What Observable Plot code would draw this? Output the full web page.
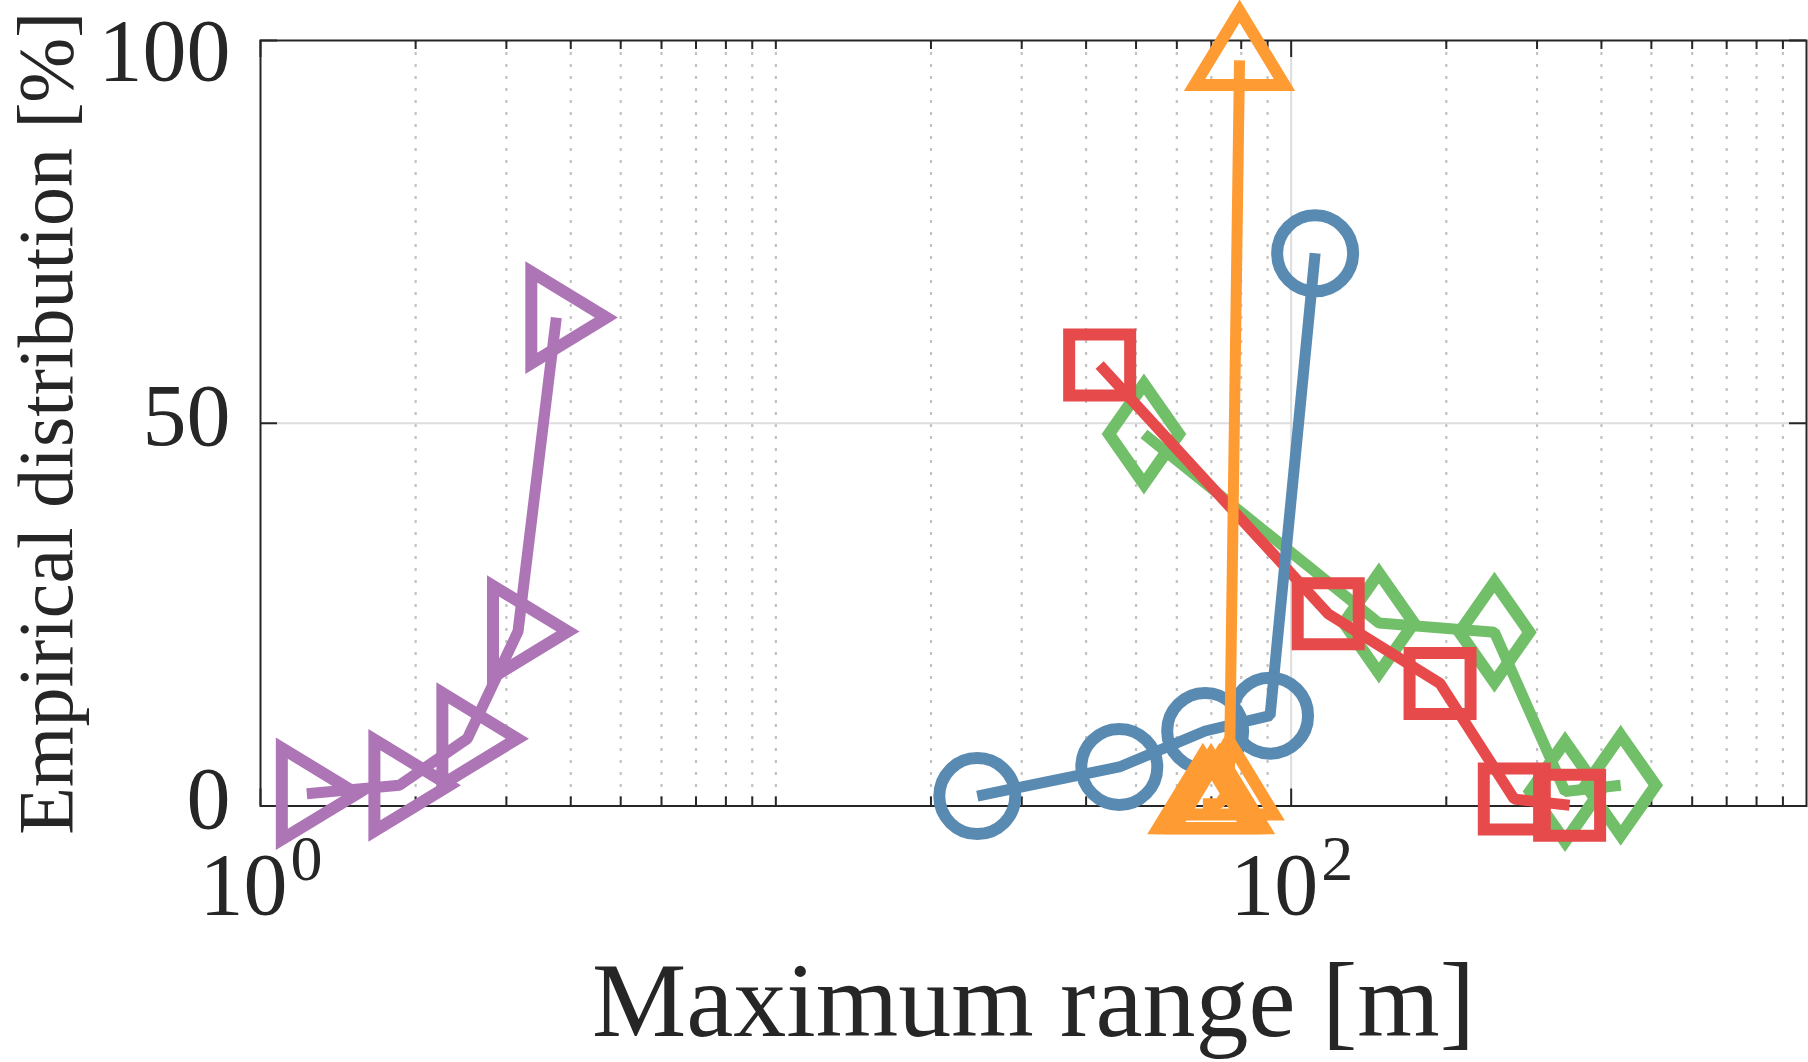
<!DOCTYPE html>
<html>
<head>
<meta charset="utf-8">
<script src="https://cdn.jsdelivr.net/npm/d3@7"></script>
<script src="https://cdn.jsdelivr.net/npm/@observablehq/plot@0.6"></script>
<style>
  html, body { margin: 0; padding: 0; background: #fff; }
  #chart svg { display: block; }
</style>
</head>
<body>
<div id="chart"></div>
<script>
// ---- Data ----
const purpleX = [1.23, 1.86, 2.52, 3.16, 3.75];
const purpleY = [1.6, 2.7, 8.8, 22.8, 63.8];

const greenX = [51.8, 148, 248, 340, 436];
const greenY = [48.6, 23.9, 22.7, 1.9, 2.7];

const redX = [42.5, 118, 194.5, 271, 347];
const redY = [57.6, 25.1, 16.0, 0.9, 0.1];

const blueX = [24.6, 46.4, 68.1, 91.0, 111.3];
const blueY = [1.3, 5.1, 9.8, 11.8, 72.2];

const orangeX = [67.4, 69.9, 72.6, 75.8, 79.4];
const orangeY = [0.3, 0.3, 0.3, 2.1, 97.4];

const yTicks = [0, 50, 100];
const yTickLabelsLow = [0, 50];
const yTickLabelsTop = [100];
const xTickValues = [1, 100];
const xTickBase = ["10", "10"];
const xTickExp = ["0", "2"];
const xMinorGrid = [2,3,4,5,6,7,8,9,10,20,30,40,50,60,70,80,90,200,300,400,500,600,700,800,900];
const xMajorGrid = [100];
const yMajorGrid = [50];

const xTitle = "Maximum range [m]";
const yTitle = "Empirical distribution [%]";

const colors = {
  purple: "#AD74B6",
  green: "#72BF6A",
  red: "#E64A4A",
  blue: "#598AB2",
  orange: "#FF9B33"
};

// ---- Build tables ----
const rows = (xs, ys) => xs.map((x, i) => ({x, y: ys[i]}));
const purple = rows(purpleX, purpleY);
const green = rows(greenX, greenY);
const red = rows(redX, redY);
const blue = rows(blueX, blueY);
const orange = rows(orangeX, orangeY);
const xTickLabels = xTickValues.map((v, i) => ({v, base: xTickBase[i], exp: xTickExp[i]}));

// ---- Custom marker symbols (size -> r) ----
const sym = (fn) => ({draw(ctx, size) { const r = Math.sqrt(size / Math.PI); fn(ctx, r); }});
const squareSym = sym((c, r) => { c.moveTo(-r, -r); c.lineTo(r, -r); c.lineTo(r, r); c.lineTo(-r, r); c.closePath(); });
const diamondSym = sym((c, r) => { const w = 0.7 * r; c.moveTo(0, -r); c.lineTo(w, 0); c.lineTo(0, r); c.lineTo(-w, 0); c.closePath(); });
const triangleSym = sym((c, r) => { const w = 0.913 * r; c.moveTo(0, -r); c.lineTo(w, 0.5 * r); c.lineTo(-w, 0.5 * r); c.closePath(); });

const W = 1808, H = 1062;
const mL = 260, mR = 2, mT = 40, mB = 256.5;
const frameW = W - mL - mR, frameH = H - mT - mB;
const axisColor = "#262626";

const series = (data, color, symbol, r, extra = {}) => [
  Plot.line(data, {x: "x", y: "y", stroke: color, strokeWidth: 11, strokeLinejoin: "miter", strokeLinecap: "butt"}),
  Plot.dot(data, {x: "x", y: "y", stroke: color, strokeWidth: 12, fill: "none", symbol, r, strokeLinejoin: "miter", ...extra})
];

const chart = Plot.plot({
  width: W,
  height: H,
  marginLeft: mL,
  marginRight: mR,
  marginTop: mT,
  marginBottom: mB,
  style: {fontFamily: "'Liberation Serif', 'DejaVu Serif', serif", background: "#fff", overflow: "visible", color: axisColor},
  x: {type: "log", domain: [1, 1000], axis: null},
  y: {domain: [0, 100], axis: null},
  marks: [
    // grid
    Plot.ruleX(xMinorGrid, {x: d => d, stroke: "#c2c2c2", strokeWidth: 2.2, strokeDasharray: "3,9"}),
    Plot.ruleX(xMajorGrid, {x: d => d, stroke: "#dddddd", strokeWidth: 2}),
    Plot.ruleY(yMajorGrid, {y: d => d, stroke: "#dddddd", strokeWidth: 2}),
    // ticks (inside), bottom & top
    Plot.tickX(xMinorGrid, {x: d => d, stroke: axisColor, strokeWidth: 2, insetTop: frameH - 9}),
    Plot.tickX(xMinorGrid, {x: d => d, stroke: axisColor, strokeWidth: 2, insetBottom: frameH - 9}),
    Plot.tickX(xTickValues, {x: d => d, stroke: axisColor, strokeWidth: 2, insetTop: frameH - 17}),
    Plot.tickX(xTickValues, {x: d => d, stroke: axisColor, strokeWidth: 2, insetBottom: frameH - 17}),
    Plot.tickY(yTicks, {y: d => d, stroke: axisColor, strokeWidth: 2, insetRight: frameW - 17}),
    Plot.tickY(yTicks, {y: d => d, stroke: axisColor, strokeWidth: 2, insetLeft: frameW - 17}),
    Plot.frame({stroke: axisColor, strokeWidth: 2}),
    // tick labels
    Plot.text(yTickLabelsLow, {y: d => d, text: d => String(d), frameAnchor: "left", dx: -30, dy: -6, textAnchor: "end", lineAnchor: "middle", fontSize: 88, fill: axisColor}),
    Plot.text(yTickLabelsTop, {y: d => d, text: d => String(d), frameAnchor: "left", dx: -30, dy: 39, textAnchor: "end", lineAnchor: "bottom", fontSize: 88, fill: axisColor}),
    Plot.text(xTickLabels, {x: "v", text: "base", frameAnchor: "bottom", dx: 27, dy: 107.5, textAnchor: "end", lineAnchor: "bottom", fontSize: 88, fill: axisColor}),
    Plot.text(xTickLabels, {x: "v", text: "exp", frameAnchor: "bottom", dx: 30, dy: 74, textAnchor: "start", lineAnchor: "bottom", fontSize: 64, fill: axisColor}),
    // axis titles
    Plot.text([xTitle], {text: d => d, frameAnchor: "bottom", dy: 229.5, textAnchor: "middle", lineAnchor: "bottom", fontSize: 106, fill: axisColor}),
    Plot.text([yTitle], {text: d => d, frameAnchor: "left", dx: -189, rotate: -90, textAnchor: "middle", lineAnchor: "bottom", fontSize: 78, fill: axisColor}),
    // data series
    ...series(purple, colors.purple, triangleSym, 50, {rotate: 90}),
    ...series(green, colors.green, diamondSym, 50),
    ...series(red, colors.red, squareSym, 30.5),
    ...series(blue, colors.blue, "circle", 38),
    ...series(orange, colors.orange, triangleSym, 49.3)
  ]
});

document.getElementById("chart").appendChild(chart);
</script>
</body>
</html>
